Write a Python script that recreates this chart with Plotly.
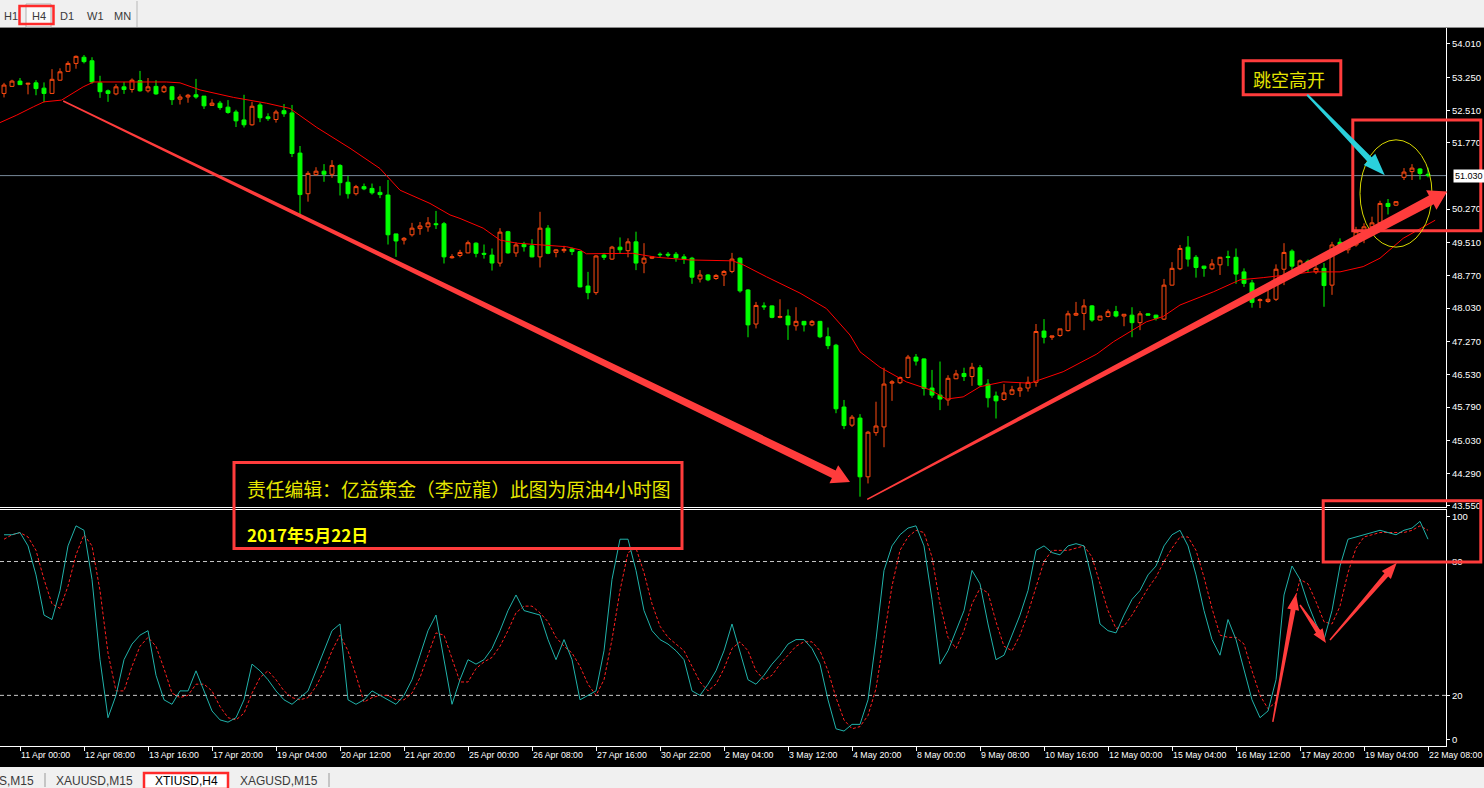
import math
import plotly.graph_objects as go

# ---------------- data ----------------
bars = list(range(179))

opens = [
    52.89, 53.05, 53.17, 53.10, 53.13, 53.01, 52.89, 53.19, 53.39, 53.57,
    53.71, 53.63, 53.13, 52.95, 52.88, 53.04, 52.98, 53.18, 52.95, 53.05,
    52.93, 53.04, 52.76, 52.81, 52.86, 52.83, 52.62, 52.67, 52.58, 52.47,
    52.29, 52.18, 52.63, 52.36, 52.30, 52.50, 52.45, 51.54, 50.62, 51.05,
    51.13, 51.06, 51.26, 50.88, 50.62, 50.78, 50.74, 50.65, 50.59, 49.71,
    49.57, 49.69, 49.83, 49.87, 49.94, 49.94, 49.17, 49.22, 49.28, 49.50,
    49.27, 49.23, 49.05, 49.76, 49.28, 49.47, 49.44, 49.19, 49.84, 49.29,
    49.33, 49.37, 49.31, 48.53, 48.38, 49.23, 49.14, 49.41, 49.33, 49.53,
    49.05, 49.16, 49.25, 49.25, 49.25, 49.19, 49.16, 48.69, 48.78, 48.70,
    48.78, 48.86, 49.16, 48.44, 47.67, 48.08, 48.08, 47.82, 47.85, 47.63,
    47.73, 47.65, 47.73, 47.38, 47.19, 45.79, 45.38, 45.54, 44.21, 45.21,
    45.34, 46.33, 46.34, 46.46, 46.92, 46.88, 46.22, 46.06, 45.95, 46.43,
    46.55, 46.48, 46.68, 46.31, 46.04, 45.96, 46.08, 46.16, 46.22, 46.35,
    47.51, 47.37, 47.41, 47.52, 47.87, 47.91, 48.08, 47.76, 47.84, 47.95,
    47.85, 47.87, 47.70, 47.90, 47.87, 47.78, 48.55, 48.92, 49.41, 49.18,
    48.98, 48.92, 49.01, 49.19, 49.18, 48.85, 48.60, 48.20, 48.18, 48.23,
    48.91, 49.32, 48.98, 49.09, 48.85, 48.93, 48.55, 49.52, 49.35, 49.46,
    49.76, 49.87, 49.96, 50.40, 50.36, 50.99, 51.12, 51.18, 51.06,
]
highs = [
    53.13, 53.20, 53.24, 53.13, 53.19, 53.14, 53.44, 53.46, 53.62, 53.75,
    53.76, 53.71, 53.29, 52.98, 53.10, 53.15, 53.23, 53.40, 53.24, 53.19,
    53.08, 53.06, 52.87, 52.88, 53.22, 52.83, 52.76, 52.72, 52.74, 52.52,
    52.86, 52.70, 52.68, 52.44, 52.52, 52.65, 52.63, 51.70, 51.13, 51.22,
    51.29, 51.38, 51.29, 51.02, 50.82, 50.85, 50.85, 50.79, 50.93, 49.71,
    49.64, 49.96, 49.98, 50.09, 50.23, 49.98, 49.25, 49.35, 49.56, 49.52,
    49.47, 49.38, 49.84, 49.78, 49.52, 49.53, 49.59, 50.21, 49.91, 49.37,
    49.44, 49.40, 49.33, 48.85, 49.23, 49.28, 49.44, 49.63, 49.61, 49.76,
    49.50, 49.21, 49.29, 49.30, 49.30, 49.25, 49.19, 48.89, 48.80, 48.80,
    48.89, 49.28, 49.18, 48.46, 48.17, 48.16, 48.09, 48.23, 48.00, 48.05,
    47.74, 47.76, 47.74, 47.59, 47.22, 45.95, 45.61, 45.63, 45.25, 45.91,
    46.68, 46.40, 46.48, 46.97, 46.99, 46.89, 46.63, 46.82, 46.51, 46.63,
    46.68, 46.79, 46.74, 46.42, 46.14, 46.31, 46.27, 46.35, 46.48, 47.67,
    47.78, 47.40, 47.56, 47.97, 48.17, 48.23, 48.10, 47.85, 48.00, 48.08,
    47.89, 48.05, 47.96, 47.91, 47.88, 48.69, 49.07, 49.46, 49.66, 49.23,
    48.99, 49.14, 49.19, 49.33, 49.38, 48.93, 48.67, 48.25, 48.48, 49.02,
    49.50, 49.36, 49.13, 49.13, 49.05, 49.05, 49.53, 49.61, 49.53, 49.87,
    49.95, 50.10, 50.46, 50.50, 50.45, 51.20, 51.29, 51.20, 51.21,
]
lows = [
    52.80, 53.04, 53.08, 52.87, 52.85, 52.69, 52.88, 53.18, 53.38, 53.45,
    53.57, 53.11, 52.79, 52.70, 52.85, 52.88, 52.91, 52.93, 52.91, 52.86,
    52.90, 52.63, 52.64, 52.68, 52.77, 52.54, 52.61, 52.52, 52.43, 52.13,
    52.12, 52.16, 52.24, 52.27, 52.23, 52.36, 51.45, 50.15, 50.44, 51.03,
    50.89, 50.98, 50.58, 50.51, 50.58, 50.70, 50.60, 50.52, 49.47, 49.19,
    49.47, 49.65, 49.69, 49.76, 49.82, 49.04, 49.15, 49.18, 49.27, 49.18,
    49.15, 48.88, 48.97, 49.26, 49.19, 49.31, 49.18, 48.95, 49.25, 49.18,
    49.28, 49.23, 48.50, 48.23, 48.33, 49.12, 49.12, 49.26, 49.18, 48.89,
    48.82, 49.14, 49.18, 49.18, 49.08, 49.03, 48.58, 48.61, 48.64, 48.67,
    48.53, 48.82, 48.38, 47.37, 47.57, 47.99, 47.80, 47.80, 47.31, 47.52,
    47.50, 47.62, 47.35, 47.10, 45.65, 45.29, 45.34, 43.76, 44.06, 45.14,
    44.88, 45.93, 46.31, 46.44, 46.73, 46.05, 46.00, 45.72, 45.82, 46.42,
    46.38, 46.27, 46.25, 45.78, 45.53, 45.93, 46.06, 46.02, 46.14, 46.25,
    47.23, 47.31, 47.38, 47.50, 47.85, 47.53, 47.72, 47.75, 47.82, 47.82,
    47.62, 47.37, 47.53, 47.87, 47.75, 47.76, 48.54, 48.89, 48.97, 48.72,
    48.74, 48.89, 48.78, 48.98, 48.58, 48.51, 48.04, 48.03, 48.15, 48.19,
    48.55, 48.88, 48.97, 48.85, 48.80, 48.06, 48.33, 49.35, 49.27, 49.42,
    49.50, 49.69, 49.91, 50.15, 50.34, 50.93, 50.93, 50.94, 50.99,
]
closes = [
    53.08, 53.17, 53.09, 53.12, 53.00, 52.89, 53.21, 53.38, 53.57, 53.73,
    53.61, 53.15, 52.93, 52.89, 53.04, 52.98, 53.19, 52.95, 53.04, 52.88,
    53.04, 52.75, 52.81, 52.85, 52.81, 52.61, 52.67, 52.57, 52.46, 52.27,
    52.18, 52.60, 52.34, 52.32, 52.47, 52.43, 51.53, 50.60, 51.08, 51.13,
    51.06, 51.26, 50.87, 50.62, 50.78, 50.73, 50.64, 50.60, 49.69, 49.55,
    49.61, 49.84, 49.89, 49.96, 49.92, 49.19, 49.19, 49.29, 49.51, 49.27,
    49.25, 49.05, 49.75, 49.28, 49.46, 49.42, 49.19, 49.84, 49.27, 49.35,
    49.36, 49.31, 48.51, 48.38, 49.21, 49.18, 49.41, 49.35, 49.53, 49.05,
    49.16, 49.19, 49.24, 49.23, 49.17, 49.14, 48.73, 48.78, 48.67, 48.77,
    48.86, 49.14, 48.42, 47.65, 48.09, 48.06, 47.82, 47.84, 47.65, 47.73,
    47.65, 47.73, 47.38, 47.18, 45.75, 45.37, 45.56, 44.21, 45.22, 45.36,
    46.31, 46.36, 46.46, 46.92, 46.83, 46.21, 46.06, 45.97, 46.44, 46.54,
    46.48, 46.69, 46.29, 46.00, 45.93, 46.11, 46.18, 46.22, 46.35, 47.50,
    47.37, 47.40, 47.56, 47.90, 47.91, 48.08, 47.76, 47.85, 47.95, 47.85,
    47.89, 47.70, 47.90, 47.87, 47.80, 48.55, 48.93, 49.38, 49.14, 48.95,
    48.93, 49.03, 49.18, 49.18, 48.80, 48.59, 48.16, 48.22, 48.23, 48.91,
    49.29, 48.98, 49.10, 49.05, 48.93, 48.54, 49.46, 49.42, 49.42, 49.76,
    49.87, 49.96, 50.40, 50.33, 50.44, 51.11, 51.20, 51.08, 51.03,
]

tick_bars = [2, 10, 18, 26, 34, 42, 50, 58, 66, 74, 82, 90, 98, 106, 114, 122,
             130, 138, 146, 154, 162, 170, 178]
tick_labels = ["11 Apr 00:00", "12 Apr 08:00", "13 Apr 16:00", "17 Apr 20:00",
               "19 Apr 04:00", "20 Apr 12:00", "21 Apr 20:00", "25 Apr 00:00",
               "26 Apr 08:00", "27 Apr 16:00", "30 Apr 22:00", "2 May 04:00",
               "3 May 12:00", "4 May 20:00", "8 May 00:00", "9 May 08:00",
               "10 May 16:00", "12 May 00:00", "15 May 04:00", "16 May 12:00",
               "17 May 20:00", "19 May 04:00", "22 May 08:00"]
price_ticks = [54.01, 53.25, 52.51, 51.77, 51.03, 50.27, 49.51, 48.77, 48.03,
               47.27, 46.53, 45.79, 45.03, 44.29, 43.55]

ma_bars = [-0.5, 1.6, 3.7, 5.0, 7.2, 9.9, 11.2, 20.3, 22, 24.5, 28.7, 32.8, 35.75,
           39.1, 43.25, 47, 49.5, 53.25, 55.75, 57, 59.9, 62, 64.1, 70.3, 72,
           72.8, 78.6, 81.6, 85.75, 91.1, 92.4, 95.3, 99.5, 102.8, 105.75, 107,
           109.5, 112.8, 115.75, 117.8, 119.9, 122, 124.9, 128.25, 132.4, 136.6,
           138.7, 142.8, 144.9, 147, 151.2, 154.5, 157.4, 163.6, 167, 169.9,
           172, 174.9, 178.9]
ma_vals = [52.23, 52.40, 52.59, 52.70, 52.74, 53.04, 53.15, 53.15, 53.13, 52.97,
           52.80, 52.67, 52.55, 52.12, 51.65, 51.19, 50.70, 50.40, 50.14, 50.06,
           49.84, 49.57, 49.50, 49.42, 49.35, 49.26, 49.27, 49.18, 49.12, 49.10,
           49.01, 48.74, 48.37, 48.02, 47.42, 47.04, 46.69, 46.36, 46.18, 45.97,
           46.02, 46.25, 46.36, 46.33, 46.59, 46.99, 47.27, 47.72, 47.84, 48.10,
           48.40, 48.67, 48.72, 48.85, 48.85, 48.97, 49.16, 49.61, 50.02]

stoch_main = [
    92, 92, 93, 87, 74, 56, 54, 67, 87, 96,
    94, 72, 36, 10, 20, 36, 43, 47, 49, 29,
    18, 16, 22, 22, 31, 22, 13, 9, 8, 10,
    18, 34, 31, 27, 22, 18, 16, 19, 22, 31,
    40, 49, 52, 18, 16, 18, 22, 20, 18, 16,
    20, 27, 38, 49, 56, 36, 16, 27, 36, 34,
    36, 41, 49, 58, 65, 58, 57, 56, 45, 36,
    45, 36, 18, 20, 22, 40, 72, 90, 90, 76,
    58, 49, 45, 43, 40, 36, 22, 20, 25, 31,
    40, 52, 40, 27, 25, 29, 34, 38, 43, 45,
    45, 41, 34, 18, 5, 4, 7, 7, 18, 45,
    76, 87, 92, 95, 96, 87, 63, 34, 40, 49,
    58, 76, 70, 52, 36, 38, 47, 56, 67, 85,
    87, 84, 83, 87, 88, 87, 72, 52, 49, 48,
    56, 63, 67, 74, 78, 87, 92, 94, 87, 74,
    58, 45, 38, 54, 45, 31, 18, 10, 13, 27,
    65, 78, 72, 61, 52, 45, 58, 78, 90, 91,
    92, 93, 94, 93, 92, 94, 95, 98, 90,
]
stoch_signal = [
    90, 92, 93, 91, 85, 72, 61, 59, 69, 83,
    92, 87, 67, 39, 22, 22, 33, 42, 46, 42,
    32, 21, 19, 20, 25, 25, 22, 15, 10, 9,
    12, 21, 28, 31, 27, 22, 19, 18, 19, 24,
    31, 40, 47, 40, 29, 17, 19, 20, 20, 18,
    18, 21, 28, 38, 48, 47, 36, 26, 26, 32,
    35, 37, 42, 49, 57, 60, 60, 57, 53, 46,
    42, 39, 33, 25, 20, 27, 45, 67, 84, 86,
    75, 61, 51, 46, 43, 40, 33, 26, 22, 25,
    32, 41, 44, 40, 31, 27, 29, 34, 38, 42,
    44, 44, 40, 31, 19, 9, 5, 6, 11, 23,
    46, 69, 85, 91, 94, 93, 82, 61, 46, 41,
    49, 61, 68, 66, 53, 42, 40, 47, 57, 69,
    80, 85, 85, 85, 86, 87, 82, 70, 58, 50,
    51, 56, 62, 68, 73, 80, 86, 91, 91, 85,
    73, 59, 47, 46, 46, 43, 31, 20, 14, 17,
    35, 57, 72, 70, 62, 53, 52, 60, 75, 86,
    91, 92, 93, 93, 93, 93, 94, 96, 94,
]
stoch_levels = [0, 20, 80, 100]
last_price = 51.03

# ---------------- geometry ----------------
W, H = 1484, 788
ML, MR, MT, MB = 0, 38, 28, 42
PW, PH = W - ML - MR, H - MT - MB
XR = [-0.5, 180.25]
MAIN_DOM = [0.3329, 1.0]
STO_DOM = [0.0, 0.3287]
MAIN_YR = [43.527, 54.372]
STO_YR = [-2.7, 103.1]


def pix(px, py):
    return ((px - ML) / PW, (MT + PH - py) / PH)


def main_px(i, p):
    fx = (i - XR[0]) / (XR[1] - XR[0])
    fy = MAIN_DOM[0] + (p - MAIN_YR[0]) / (MAIN_YR[1] - MAIN_YR[0]) * (MAIN_DOM[1] - MAIN_DOM[0])
    return (ML + fx * PW, MT + (1 - fy) * PH)


def sto_px(i, v):
    fx = (i - XR[0]) / (XR[1] - XR[0])
    fy = STO_DOM[0] + (v - STO_YR[0]) / (STO_YR[1] - STO_YR[0]) * (STO_DOM[1] - STO_DOM[0])
    return (ML + fx * PW, MT + (1 - fy) * PH)


def arrow_path(p0, p1, w0, w1, hw, hl):
    x0, y0 = p0
    x1, y1 = p1
    dx, dy = x1 - x0, y1 - y0
    L = math.hypot(dx, dy)
    ux, uy = dx / L, dy / L
    nx, ny = -uy, ux
    bx, by = x1 - ux * hl, y1 - uy * hl
    pts = [(x0 + nx * w0 / 2, y0 + ny * w0 / 2),
           (bx + nx * w1 / 2, by + ny * w1 / 2),
           (bx + nx * hw / 2, by + ny * hw / 2),
           (x1, y1),
           (bx - nx * hw / 2, by - ny * hw / 2),
           (bx - nx * w1 / 2, by - ny * w1 / 2),
           (x0 - nx * w0 / 2, y0 - ny * w0 / 2)]
    pp = [pix(a, b) for a, b in pts]
    return "M " + " L ".join(f"{a:.5f},{b:.5f}" for a, b in pp) + " Z"


def rect_px(x0, y0, x1, y1, color, width, fill="rgba(0,0,0,0)"):
    a = pix(x0, y0)
    b = pix(x1, y1)
    return dict(type="rect", xref="paper", yref="paper", x0=a[0], y0=b[1], x1=b[0], y1=a[1],
                line=dict(color=color, width=width), fillcolor=fill, layer="above")


def line_px(x0, y0, x1, y1, color, width=1):
    a = pix(x0, y0)
    b = pix(x1, y1)
    return dict(type="line", xref="paper", yref="paper", x0=a[0], y0=a[1], x1=b[0], y1=b[1],
                line=dict(color=color, width=width), layer="above")


RED = "#ff3c3c"
AXFONT = "Liberation Sans"

fig = go.Figure()
fig.add_trace(go.Candlestick(
    x=bars, open=opens, high=highs, low=lows, close=closes,
    xaxis="x2", yaxis="y2",
    increasing=dict(line=dict(color="#ff4a10", width=1), fillcolor="#000000"),
    decreasing=dict(line=dict(color="#00ff00", width=1), fillcolor="#00ff00"),
    whiskerwidth=0, hoverinfo="skip", showlegend=False))
fig.add_trace(go.Scatter(x=ma_bars, y=ma_vals, xaxis="x2", yaxis="y2", mode="lines",
                         line=dict(color="#ff0000", width=1), hoverinfo="skip", showlegend=False))
fig.add_trace(go.Scatter(x=bars, y=stoch_signal, xaxis="x", yaxis="y", mode="lines",
                         line=dict(color="#ff2020", width=1, dash="3px,2px"),
                         hoverinfo="skip", showlegend=False))
fig.add_trace(go.Scatter(x=bars, y=stoch_main, xaxis="x", yaxis="y", mode="lines",
                         line=dict(color="#20b2aa", width=1), hoverinfo="skip", showlegend=False))

shapes = []
# bid line and stochastic levels
shapes.append(dict(type="line", xref="paper", yref="y2", x0=0, x1=1, y0=last_price, y1=last_price,
                   line=dict(color="#778899", width=1), layer="below"))
for lv in (20, 80):
    shapes.append(dict(type="line", xref="paper", yref="y", x0=0, x1=1, y0=lv, y1=lv,
                       line=dict(color="#c8c8c8", width=1, dash="4px,3px"), layer="below"))

# toolbar
shapes.append(rect_px(-2, -2, W + 2, 27, "#f0f0f0", 0, "#f0f0f0"))
shapes.append(line_px(0, 27.5, W, 27.5, "#8a8a8a", 1))
shapes.append(rect_px(26, 4, 51, 27, "#b0b0b0", 1, "#fafafa"))
shapes.append(line_px(137, 1, 137, 27, "#b8b8b8", 1))
shapes.append(rect_px(19.5, 6, 53.5, 24, "#ff2a2a", 2.5))
# tab bar
shapes.append(rect_px(-2, 767, W + 2, H + 2, "#f0f0f0", 0, "#f0f0f0"))
shapes.append(line_px(45, 773, 45, 787, "#9a9a9a", 1))
shapes.append(line_px(329, 773, 329, 787, "#9a9a9a", 1))
shapes.append(rect_px(144, 773, 228, 789, "#ff2a2a", 2.5, "#ffffff"))

# annotation boxes
a = main_px(154.9, 53.63); b = main_px(167.1, 52.86)
shapes.append(rect_px(a[0], a[1], b[0], b[1], RED, 3))
a = main_px(168.6, 52.29); b = main_px(184.6, 49.78)
shapes.append(rect_px(a[0], a[1], b[0], b[1], RED, 3))
a = sto_px(164.9, 107.2); b = sto_px(184.6, 79.8)
shapes.append(rect_px(a[0], a[1], b[0], b[1], RED, 3))
shapes.append(rect_px(234, 462.5, 682, 548.5, RED, 3))
# ellipse
a = main_px(169.5, 51.84); b = main_px(178.5, 49.41)
pa = pix(*a); pb = pix(*b)
shapes.append(dict(type="circle", xref="paper", yref="paper", x0=pa[0], x1=pb[0], y0=pb[1], y1=pa[1],
                   line=dict(color="#d8d800", width=1), layer="above"))

# arrows
shapes.append(dict(type="path", xref="paper", yref="paper", layer="above",
                   path=arrow_path(main_px(7.4, 52.72), main_px(105.75, 44.09), 1.5, 8.5, 20, 18),
                   fillcolor=RED, line=dict(width=0)))
shapes.append(dict(type="path", xref="paper", yref="paper", layer="above",
                   path=arrow_path(main_px(107.9, 43.70), main_px(180.4, 50.67), 1.5, 10, 22, 18),
                   fillcolor=RED, line=dict(width=0)))
shapes.append(dict(type="path", xref="paper", yref="paper", layer="above",
                   path=arrow_path(main_px(162.9, 52.86), main_px(172.6, 51.04), 2, 6, 16, 22),
                   fillcolor="#2ad0dc", line=dict(width=0)))
shapes.append(dict(type="path", xref="paper", yref="paper", layer="above",
                   path=arrow_path(sto_px(158.6, 8.1), sto_px(161.5, 65.5), 1.5, 5, 12, 16),
                   fillcolor=RED, line=dict(width=0)))
shapes.append(dict(type="path", xref="paper", yref="paper", layer="above",
                   path=arrow_path(sto_px(162, 60.5), sto_px(165.25, 43.5), 1.5, 5, 11, 14),
                   fillcolor=RED, line=dict(width=0)))
shapes.append(dict(type="path", xref="paper", yref="paper", layer="above",
                   path=arrow_path(sto_px(165.75, 44.8), sto_px(174.1, 79.4), 1.5, 5, 12, 16),
                   fillcolor=RED, line=dict(width=0)))

annotations = []


def text_px(px, py, text, size, color, family="Liberation Sans", xanchor="center", bold=False):
    p = pix(px, py)
    if bold:
        text = "<b>" + text + "</b>"
    annotations.append(dict(xref="paper", yref="paper", x=p[0], y=p[1], text=text, showarrow=False,
                            xanchor=xanchor, yanchor="middle",
                            font=dict(family=family, size=size, color=color)))


for lab, cx in (("H1", 10.5), ("H4", 38.5), ("D1", 66.5), ("W1", 95), ("MN", 122)):
    text_px(cx, 15.5, lab, 11, "#3a3a3a")
text_px(-3, 780.5, "S,M15", 12, "#3a3a3a", xanchor="left")
text_px(94, 780.5, "XAUUSD,M15", 12, "#3a3a3a")
text_px(186.5, 780.5, "XTIUSD,H4", 12, "#000000")
text_px(278.5, 780.5, "XAGUSD,M15", 12, "#3a3a3a")

CJK = "Noto Sans CJK SC"
text_px(1289, 79, "跳空高开", 18, "#e4e400", family=CJK)
text_px(245, 488, "责任编辑：亿益策金（李应龍）此图为原油4小时图", 18.8, "#e6e600",
        family=CJK, xanchor="left")
text_px(245, 534, "2017年5月22日", 17, "#ffff00", family=CJK, xanchor="left", bold=True)

# current (bid) price label on the axis, covering the axis tick at that level
pl = main_px(0, last_price)
p = pix(1453, pl[1])
annotations.append(dict(xref="paper", yref="paper", x=p[0], y=p[1], text=f"{last_price:.3f}",
                        showarrow=False, xanchor="left", yanchor="middle", bgcolor="#ffffff",
                        borderpad=1, font=dict(family=AXFONT, size=9, color="#000000")))
axis_price_ticks = [t for t in price_ticks if abs(t - last_price) > 1e-9]

axis_common = dict(showgrid=False, zeroline=False, fixedrange=True)
fig.update_layout(
    width=W, height=H, margin=dict(l=ML, r=MR, t=MT, b=MB, pad=0),
    paper_bgcolor="#000000", plot_bgcolor="#000000", showlegend=False, hovermode=False,
    font=dict(family=AXFONT, color="#ffffff", size=10),
    xaxis=dict(domain=[0, 1], range=XR, anchor="y", showline=True, linecolor="#ffffff",
               linewidth=1, mirror=True, tickmode="array", tickvals=tick_bars,
               ticktext=tick_labels, ticks="outside", ticklen=4, tickcolor="#ffffff",
               ticklabelposition="outside right", tickangle=0, ticklabeloverflow="allow",
               tickfont=dict(family=AXFONT, size=8.8, color="#ffffff"),
               rangeslider=dict(visible=False), **axis_common),
    xaxis2=dict(domain=[0, 1], range=XR, anchor="y2", showline=True, linecolor="#ffffff",
                linewidth=1, showticklabels=False, ticks="", rangeslider=dict(visible=False),
                **axis_common),
    yaxis=dict(domain=STO_DOM, range=STO_YR, side="right", anchor="x", showline=True,
               linecolor="#ffffff", linewidth=1, tickmode="array", tickvals=stoch_levels,
               ticks="outside", ticklen=3, tickcolor="#ffffff",
               tickfont=dict(family=AXFONT, size=9.5, color="#ffffff"), **axis_common),
    yaxis2=dict(domain=MAIN_DOM, range=MAIN_YR, side="right", anchor="x2", showline=True,
                linecolor="#ffffff", linewidth=1, tickmode="array", tickvals=axis_price_ticks,
                tickformat=".3f", ticks="outside", ticklen=3, tickcolor="#ffffff",
                tickfont=dict(family=AXFONT, size=9.5, color="#ffffff"), **axis_common),
    shapes=shapes, annotations=annotations,
)

fig.write_html("out.html", config={"displayModeBar": False},
               post_script="document.documentElement.style.overflow='hidden';"
                           "document.body.style.margin='0';document.body.style.overflow='hidden';")
